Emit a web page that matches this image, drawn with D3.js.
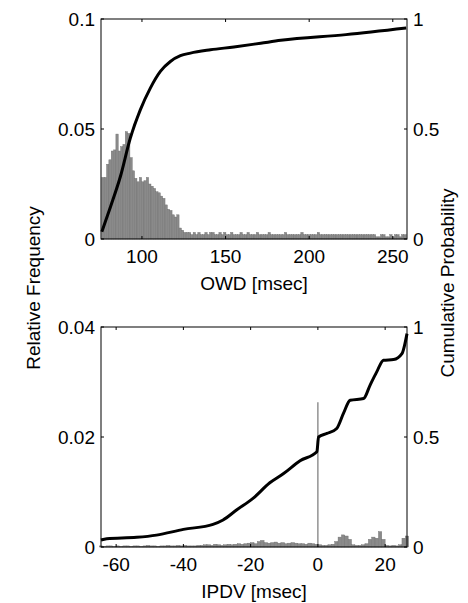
<!DOCTYPE html>
<html>
<head>
<meta charset="utf-8">
<script src="https://cdn.jsdelivr.net/npm/d3@7"></script>
<style>
  body { margin: 0; background: #fff; }
  text { font-family: "Liberation Sans", Arial, sans-serif; }
</style>
</head>
<body>
<div id="chart"></div>
<script>
// OWD histogram (relative frequency), bins start at 76 ms, width 1.4 ms
var owdStart = 76, owdBin = 1.4;
var owdFreq = [
  0.028, 0.028, 0.034, 0.036, 0.040, 0.0405, 0.0477, 0.040, 0.042, 0.043,
  0.0488, 0.048, 0.037, 0.031, 0.0276, 0.026, 0.028, 0.026, 0.0265, 0.028,
  0.025, 0.024, 0.023, 0.0215, 0.021, 0.0195, 0.0185, 0.0155, 0.0135, 0.013,
  0.011, 0.010, 0.011, 0.005, 0.004, 0.003, 0.003, 0.003, 0.002, 0.003, 0.002,
  0.003, 0.002, 0.002, 0.003, 0.002, 0.003, 0.003, 0.002, 0.002, 0.003,
  0.002, 0.003, 0.002, 0.002, 0.003, 0.002, 0.002, 0.002, 0.003, 0.002,
  0.002, 0.003, 0.002, 0.002, 0.002, 0.003, 0.002, 0.002, 0.002, 0.002,
  0.003, 0.002, 0.002, 0.002, 0.002, 0.002, 0.002, 0.003, 0.002, 0.002,
  0.002, 0.002, 0.002, 0.002, 0.003, 0.002, 0.002, 0.002, 0.002, 0.002,
  0.002, 0.003, 0.002, 0.002, 0.002, 0.002, 0.002, 0.002, 0.002, 0.002,
  0.002, 0.002, 0.002, 0.002, 0.002, 0.002, 0.002, 0.002, 0.002, 0.002,
  0.002, 0.002, 0.002, 0.002, 0.002, 0.002, 0.001, 0.001, 0.002, 0.002,
  0.001, 0.001, 0.002, 0.001, 0.002, 0.002, 0.001, 0.002, 0.002
];
// OWD cumulative probability
var owdCdfX = [76, 81.2, 87.1, 93, 99, 105, 111, 117, 123, 129, 141, 155, 171, 183, 222, 258];
var owdCdfP = [0.033, 0.147, 0.284, 0.458, 0.587, 0.686, 0.762, 0.807, 0.833, 0.845, 0.860, 0.873, 0.89, 0.903, 0.929, 0.959];

// IPDV histogram, bins start at -65 ms, width 1 ms
var ipdvStart = -65, ipdvBin = 1;
var ipdvFreq = [
  0.0002, 0.0001, 0.0002, 0.0002, 0.0001, 0.0002, 0.0001, 0.0002, 0.0002, 0.0001,
  0.0002, 0.0002, 0.0001, 0.0002, 0.0003, 0.0002, 0.0002, 0.0001, 0.0002, 0.0002,
  0.0003, 0.0002, 0.0002, 0.0003, 0.0002, 0.0003, 0.0002, 0.0002, 0.0002, 0.0003,
  0.0003, 0.0004, 0.0004, 0.0003, 0.0005, 0.0004, 0.0003, 0.0004, 0.0005, 0.0004,
  0.0005, 0.0006, 0.0005, 0.0006, 0.0007, 0.0008, 0.0006, 0.0010, 0.0012, 0.0008,
  0.0007, 0.0008, 0.0009, 0.0007, 0.0008, 0.0006, 0.0007, 0.0008, 0.0007, 0.0006,
  0.0006, 0.0005, 0.0007, 0.0006, 0.0005,
  0.0004, 0.0003, 0.0003, 0.0004, 0.0005,
  0.0010, 0.0018, 0.0022, 0.0020, 0.0014,
  0.0004, 0.0003, 0.0003, 0.0004, 0.0006,
  0.0014, 0.0018, 0.0016, 0.0028, 0.0014,
  0.0003, 0.0002, 0.0003, 0.0002, 0.0004,
  0.0016, 0.0020
];
var ipdvSpikeX = 0, ipdvSpikeV = 0.0263;
// IPDV cumulative probability
var ipdvCdfX = [-64.5, -62.8, -53.9, -48, -40, -31.2, -28.2, -24.2, -19.3, -14.3, -10.2, -5.3, -0.3, 0.2, 2.7, 5.6, 7.6, 9.6, 13.6, 15.5, 17.5, 19.5, 22.5, 25, 26.5];
var ipdvCdfP = [0.032, 0.038, 0.044, 0.054, 0.08, 0.103, 0.123, 0.168, 0.221, 0.292, 0.334, 0.392, 0.433, 0.50, 0.516, 0.539, 0.607, 0.667, 0.675, 0.735, 0.796, 0.849, 0.852, 0.879, 0.970];

var W = 468, H = 603;
var left = 101, right = 407;
var fs = 19;

var svg = d3.select("#chart").append("svg")
  .attr("width", W).attr("height", H);

function panel(cfg) {
  var x = d3.scaleLinear().domain(cfg.xDomain).range([left, right]);
  var yL = d3.scaleLinear().domain(cfg.yLDomain).range([cfg.bottom, cfg.top]);
  var yR = d3.scaleLinear().domain([0, 1]).range([cfg.bottom, cfg.top]);
  var g = svg.append("g");

  // histogram bars
  g.append("g").selectAll("rect")
    .data(cfg.freq)
    .enter().append("rect")
    .attr("x", function (d, i) { return x(cfg.start + i * cfg.bin); })
    .attr("width", function (d, i) { return x(cfg.start + (i + 1) * cfg.bin) - x(cfg.start + i * cfg.bin); })
    .attr("y", function (d) { return yL(d); })
    .attr("height", function (d) { return cfg.bottom - yL(d); })
    .attr("fill", "#8a8a8a")
    .attr("stroke", "#6e6e6e")
    .attr("stroke-width", 0.4);

  if (cfg.spike) {
    g.append("line")
      .attr("x1", x(cfg.spike[0])).attr("x2", x(cfg.spike[0]))
      .attr("y1", cfg.bottom).attr("y2", yL(cfg.spike[1]))
      .attr("stroke", "#777").attr("stroke-width", 1.2);
  }

  // cdf
  var pts = cfg.cdfX.map(function (v, i) { return [v, cfg.cdfP[i]]; });
  g.append("path")
    .datum(pts)
    .attr("fill", "none")
    .attr("stroke", "#000")
    .attr("stroke-width", 3)
    .attr("d", d3.line().curve(d3.curveMonotoneX)
      .x(function (d) { return x(d[0]); })
      .y(function (d) { return yR(d[1]); }));

  // box
  g.append("rect")
    .attr("x", left).attr("y", cfg.top)
    .attr("width", right - left).attr("height", cfg.bottom - cfg.top)
    .attr("fill", "none").attr("stroke", "#000").attr("stroke-width", 1);

  var tk = 3;
  // x ticks (bottom and top, inward)
  cfg.xTicks.forEach(function (t) {
    g.append("line").attr("x1", x(t)).attr("x2", x(t))
      .attr("y1", cfg.bottom).attr("y2", cfg.bottom - tk).attr("stroke", "#000");
    g.append("line").attr("x1", x(t)).attr("x2", x(t))
      .attr("y1", cfg.top).attr("y2", cfg.top + tk).attr("stroke", "#000");
    g.append("text").attr("x", x(t)).attr("y", cfg.bottom + 24)
      .attr("text-anchor", "middle").style("font-size", fs + "px")
      .text(t);
  });
  cfg.yLTicks.forEach(function (t) {
    g.append("line").attr("x1", left).attr("x2", left + tk)
      .attr("y1", yL(t)).attr("y2", yL(t)).attr("stroke", "#000");
    g.append("text").attr("x", left - 6).attr("y", yL(t))
      .attr("dy", "0.35em").attr("text-anchor", "end")
      .style("font-size", fs + "px").text(t);
  });
  [0, 0.5, 1].forEach(function (t) {
    g.append("line").attr("x1", right).attr("x2", right - tk)
      .attr("y1", yR(t)).attr("y2", yR(t)).attr("stroke", "#000");
    g.append("text").attr("x", right + 6).attr("y", yR(t))
      .attr("dy", "0.35em").attr("text-anchor", "start")
      .style("font-size", fs + "px").text(t);
  });

  g.append("text").attr("x", (left + right) / 2).attr("y", cfg.bottom + 51)
    .attr("text-anchor", "middle").style("font-size", fs + "px")
    .text(cfg.xLabel);
}

panel({
  top: 19, bottom: 239,
  xDomain: [75.5, 258.5], yLDomain: [0, 0.1],
  xTicks: [100, 150, 200, 250], yLTicks: [0, 0.05, 0.1],
  start: owdStart, bin: owdBin, freq: owdFreq,
  cdfX: owdCdfX, cdfP: owdCdfP,
  xLabel: "OWD [msec]"
});

panel({
  top: 327, bottom: 547,
  xDomain: [-64.5, 26.5], yLDomain: [0, 0.04],
  xTicks: [-60, -40, -20, 0, 20], yLTicks: [0, 0.02, 0.04],
  start: ipdvStart, bin: ipdvBin, freq: ipdvFreq,
  spike: [ipdvSpikeX, ipdvSpikeV],
  cdfX: ipdvCdfX, cdfP: ipdvCdfP,
  xLabel: "IPDV [msec]"
});

svg.append("text")
  .attr("transform", "translate(40,288) rotate(-90)")
  .attr("text-anchor", "middle").style("font-size", fs + "px")
  .text("Relative Frequency");
svg.append("text")
  .attr("transform", "translate(454,283) rotate(-90)")
  .attr("text-anchor", "middle").style("font-size", fs + "px")
  .text("Cumulative Probability");
</script>
</body>
</html>
